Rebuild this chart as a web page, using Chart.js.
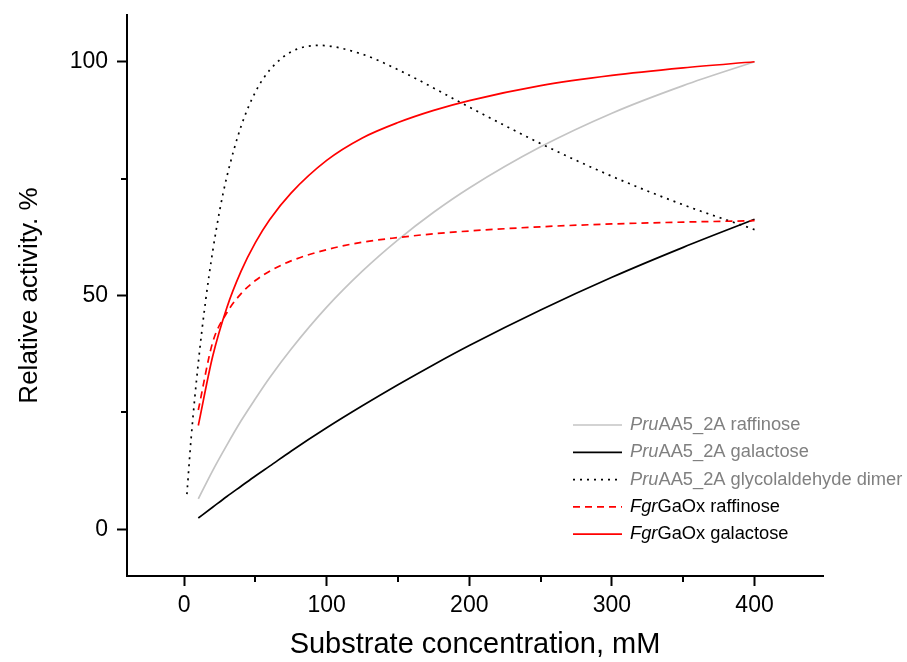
<!DOCTYPE html>
<html>
<head>
<meta charset="utf-8">
<title>Relative activity vs substrate concentration</title>
<script src="https://cdn.jsdelivr.net/npm/chart.js@4.4.1/dist/chart.umd.min.js"></script>
<style>
  html, body { margin: 0; padding: 0; background: #fff; }
  #chart { display: block; }
</style>
</head>
<body>
<canvas id="chart" width="907" height="662"></canvas>
<script>
// concentrations (mM) used for the fitted curves
const concX = [10, 20, 30, 40, 50, 60, 75, 100, 125, 150, 175, 200, 250, 300, 350, 400];
const pruRaffinose = [6.5, 12.5, 18.0, 23.2, 27.9, 32.4, 38.5, 47.5, 55.2, 61.9, 67.8, 73.0, 81.8, 89.0, 94.9, 100];
const pruGalactose = [2.4, 4.7, 7.0, 9.2, 11.4, 13.5, 16.7, 21.7, 26.4, 30.9, 35.2, 39.3, 46.9, 53.9, 60.3, 66.3];
const fgrRaffinose = [25.5, 39.9, 46.3, 50.4, 53.2, 55.2, 57.4, 59.8, 61.4, 62.4, 63.2, 63.8, 64.7, 65.3, 65.7, 66.0];
const fgrGalactose = [22.2, 36.9, 47.4, 55.2, 61.3, 66.2, 71.9, 78.9, 83.7, 87.0, 89.6, 91.7, 94.9, 97.1, 98.7, 100];

// glycolaldehyde dimer starts lower and has its own points
const glyX = [2, 5, 10, 15, 20, 25, 30, 40, 50, 60, 75, 95, 125, 150, 200, 250, 300, 350, 400];
const pruGlycolaldehyde = [7.5, 19.6, 35.6, 48.6, 59.3, 68.2, 75.4, 86.2, 93.5, 98.2, 102.1, 103.5, 101.6, 98.3, 90.3, 82.5, 75.5, 69.4, 64.1];

const xMajorTicks = [0, 100, 200, 300, 400];
const xMinorTicks = [50, 150, 250, 350];
const yMajorTicks = [0, 50, 100];
const yMinorTicks = [25, 75];

const legendItalic = ['Pru', 'Pru', 'Pru', 'Fgr', 'Fgr'];
const legendRest = ['AA5_2A raffinose', 'AA5_2A galactose', 'AA5_2A glycolaldehyde dimer', 'GaOx raffinose', 'GaOx galactose'];

const FONT = "'Liberation Sans', Arial, sans-serif";

function toPoints(xs, ys) {
  return xs.map((x, i) => ({ x: x, y: ys[i] }));
}

const series = [
  { data: toPoints(concX, pruRaffinose), color: '#c4c4c4', dash: [], text: '#808080' },
  { data: toPoints(concX, pruGalactose), color: '#000000', dash: [], text: '#808080' },
  { data: toPoints(glyX, pruGlycolaldehyde), color: '#000000', dash: [2, 5], text: '#808080' },
  { data: toPoints(concX, fgrRaffinose), color: '#ff0000', dash: [7, 5], text: '#000000' },
  { data: toPoints(concX, fgrGalactose), color: '#ff0000', dash: [], text: '#000000' }
];

const datasets = series.map((s, i) => ({
  label: legendItalic[i] + legendRest[i],
  data: s.data,
  borderColor: s.color,
  borderWidth: 1.7,
  borderDash: s.dash,
  pointRadius: 0,
  fill: false,
  cubicInterpolationMode: 'monotone',
  order: series.length - i
}));

// minor ticks and the legend with italic species prefix
const extras = {
  id: 'extras',
  afterDraw(chart) {
    const ctx = chart.ctx;
    const xs = chart.scales.x;
    const ys = chart.scales.y;
    const area = chart.chartArea;
    ctx.save();
    ctx.strokeStyle = '#000';
    ctx.lineWidth = 2;
    xMinorTicks.forEach(v => {
      const px = Math.round(xs.getPixelForValue(v));
      ctx.beginPath();
      ctx.moveTo(px, area.bottom);
      ctx.lineTo(px, area.bottom + 6);
      ctx.stroke();
    });
    yMinorTicks.forEach(v => {
      const py = Math.round(ys.getPixelForValue(v));
      ctx.beginPath();
      ctx.moveTo(area.left, py);
      ctx.lineTo(area.left - 6, py);
      ctx.stroke();
    });

    const x0 = area.left + 446;
    const lineLen = 49;
    const textX = x0 + lineLen + 8;
    const y0 = 425;
    const rowH = 27.3;
    ctx.textBaseline = 'middle';
    series.forEach((s, i) => {
      const y = y0 + i * rowH;
      ctx.beginPath();
      ctx.setLineDash(s.dash);
      ctx.strokeStyle = s.color;
      ctx.lineWidth = 1.7;
      ctx.moveTo(x0, y);
      ctx.lineTo(x0 + lineLen, y);
      ctx.stroke();
      ctx.setLineDash([]);
      ctx.fillStyle = s.text;
      ctx.font = 'italic 18.3px ' + FONT;
      ctx.fillText(legendItalic[i], textX, y);
      const w = ctx.measureText(legendItalic[i]).width;
      ctx.font = '18.3px ' + FONT;
      ctx.fillText(legendRest[i], textX + w, y);
    });
    ctx.restore();
  }
};

new Chart(document.getElementById('chart'), {
  type: 'line',
  data: { datasets: datasets },
  options: {
    responsive: false,
    animation: false,
    layout: { padding: { top: 15, right: 84, left: 0, bottom: 0 } },
    plugins: {
      legend: { display: false },
      tooltip: { enabled: false }
    },
    scales: {
      x: {
        type: 'linear',
        min: -40,
        max: 448,
        afterBuildTicks: scale => { scale.ticks = xMajorTicks.map(v => ({ value: v })); },
        afterFit: scale => {
          scale.height = 86;
          scale.paddingLeft = 0;
          scale.paddingRight = 0;
        },
        border: { display: true, color: '#000', width: 2 },
        grid: { display: true, drawOnChartArea: false, drawTicks: true, tickLength: 10, tickColor: '#000', tickWidth: 2 },
        ticks: { color: '#000', padding: 6, maxRotation: 0, font: { family: FONT, size: 23 } },
        title: {
          display: true,
          text: 'Substrate concentration, mM',
          color: '#000',
          padding: 0,
          font: { family: FONT, size: 29, lineHeight: 1.2 }
        }
      },
      y: {
        type: 'linear',
        min: -10,
        max: 110,
        afterBuildTicks: scale => { scale.ticks = yMajorTicks.map(v => ({ value: v })); },
        afterFit: scale => {
          scale.width = 127;
          scale.paddingTop = 0;
          scale.paddingBottom = 0;
        },
        border: { display: true, color: '#000', width: 2 },
        grid: { display: true, drawOnChartArea: false, drawTicks: true, tickLength: 10, tickColor: '#000', tickWidth: 2 },
        ticks: { color: '#000', padding: 9, font: { family: FONT, size: 23 } },
        title: {
          display: true,
          text: 'Relative activity. %',
          color: '#000',
          padding: { top: 14, bottom: 0 },
          font: { family: FONT, size: 26, lineHeight: 1.2 }
        }
      }
    }
  },
  plugins: [extras]
});
</script>
</body>
</html>
